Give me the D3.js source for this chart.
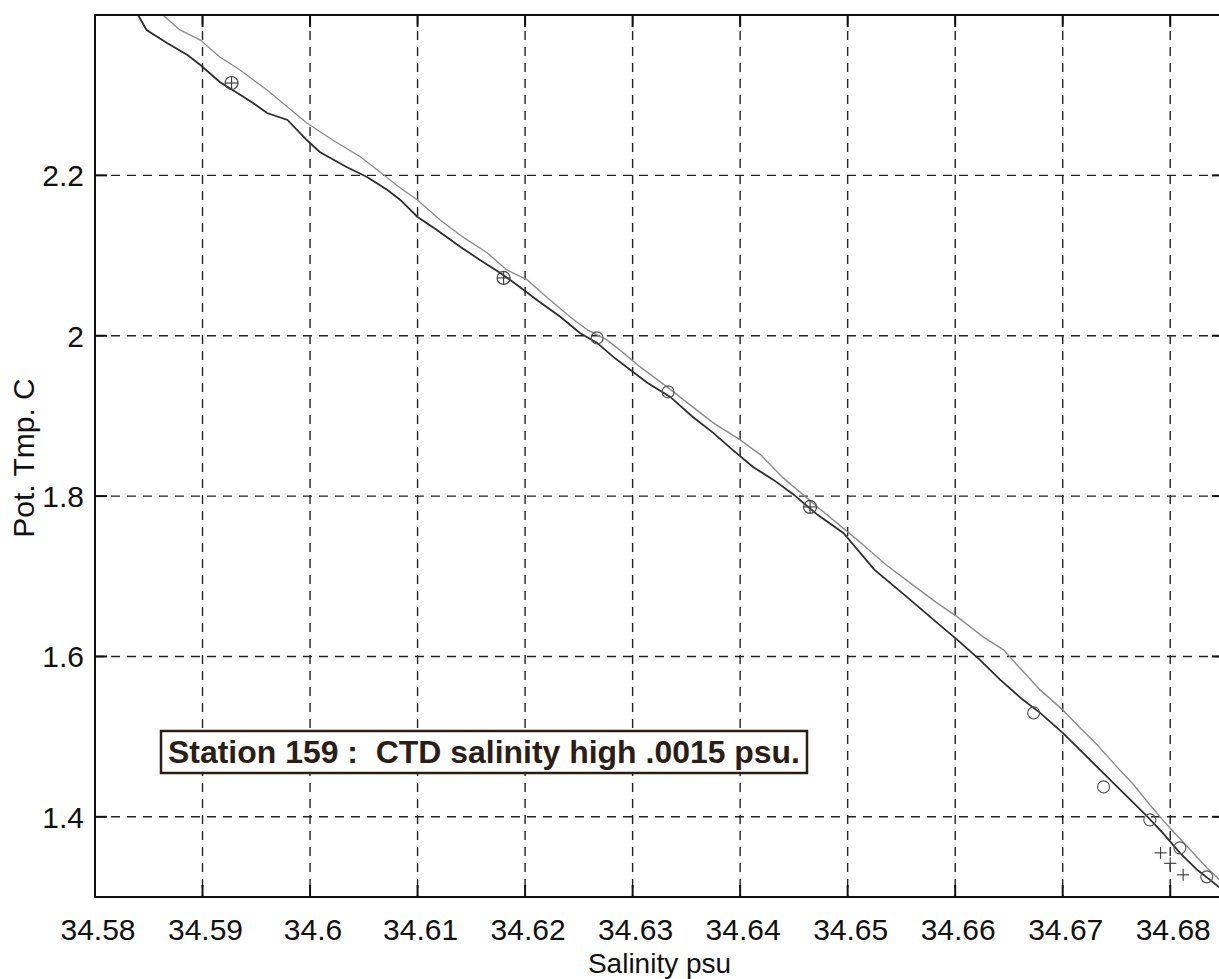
<!DOCTYPE html>
<html>
<head>
<meta charset="utf-8">
<script src="https://cdn.jsdelivr.net/npm/d3@7"></script>
<style>
    body { margin: 0; background: #fff; }
    #chart { width: 1219px; height: 979px; overflow: hidden; }
    text { font-family: "Liberation Sans", Arial, Helvetica, sans-serif; }
</style>
</head>
<body>
<div id="chart"></div>
<script>
// salinity ticks (psu) and temperature ticks (C)
const xTicks = [34.58, 34.59, 34.6, 34.61, 34.62, 34.63, 34.64, 34.65, 34.66, 34.67, 34.68];
const xTickLabels = ['34.58', '34.59', '34.6', '34.61', '34.62', '34.63', '34.64', '34.65', '34.66', '34.67', '34.68'];
const yTicks = [1.4, 1.6, 1.8, 2.0, 2.2];
const yTickLabels = ['1.4', '1.6', '1.8', '2', '2.2'];

// dark trace (CTD)
const ctdSal = [34.5840, 34.5848, 34.5867, 34.5886, 34.5898, 34.5916, 34.5928, 34.5947, 34.5960, 34.5979,
    34.5997, 34.6009, 34.6034, 34.6053, 34.6072, 34.6084, 34.6100, 34.6118, 34.6140, 34.6158,
    34.6177, 34.6195, 34.6211, 34.6233, 34.6251, 34.6267, 34.6282, 34.6298, 34.6314, 34.6335,
    34.6356, 34.6375, 34.6393, 34.6412, 34.6431, 34.6449, 34.6472, 34.6496, 34.6525, 34.6555,
    34.6580, 34.6602, 34.6623, 34.6642, 34.6663, 34.6679, 34.6700, 34.6716, 34.6732, 34.6747,
    34.6763, 34.6779, 34.6793, 34.6809, 34.6825, 34.6837, 34.6846];
const ctdTmp = [2.4000, 2.3813, 2.3651, 2.3501, 2.3377, 2.3165, 2.3065, 2.2903, 2.2778, 2.2691,
    2.2441, 2.2292, 2.2105, 2.1980, 2.1818, 2.1693, 2.1481, 2.1319, 2.1107, 2.0945,
    2.0783, 2.0608, 2.0446, 2.0234, 2.0035, 1.9910, 1.9736, 1.9573, 1.9411, 1.9237,
    1.8987, 1.8788, 1.8576, 1.8364, 1.8202, 1.8027, 1.7766, 1.7541, 1.7080, 1.6743,
    1.6456, 1.6207, 1.5957, 1.5708, 1.5459, 1.5297, 1.5047, 1.4835, 1.4623, 1.4424,
    1.4212, 1.4000, 1.3800, 1.3551, 1.3339, 1.3214, 1.3115];

// light trace (bottle / reference)
const refSal = [34.5863, 34.5879, 34.5898, 34.5916, 34.5935, 34.5960, 34.5979, 34.5997, 34.6021, 34.6047,
    34.6065, 34.6084, 34.6100, 34.6121, 34.6142, 34.6165, 34.6183, 34.6202, 34.6220, 34.6242,
    34.6258, 34.6276, 34.6288, 34.6307, 34.6332, 34.6351, 34.6375, 34.6400, 34.6419, 34.6440,
    34.6472, 34.6512, 34.6535, 34.6558, 34.6583, 34.6602, 34.6626, 34.6645, 34.6660, 34.6679,
    34.6700, 34.6716, 34.6732, 34.6747, 34.6766, 34.6781, 34.6797, 34.6816, 34.6834, 34.6846];
const refTmp = [2.4000, 2.3813, 2.3688, 2.3476, 2.3314, 2.3065, 2.2853, 2.2653, 2.2441, 2.2229,
    2.2042, 2.1843, 2.1693, 2.1444, 2.1232, 2.1032, 2.0820, 2.0696, 2.0484, 2.0234,
    2.0072, 1.9948, 1.9823, 1.9611, 1.9362, 1.9162, 1.8913, 1.8701, 1.8514, 1.8227,
    1.7865, 1.7420, 1.7150, 1.6918, 1.6668, 1.6494, 1.6244, 1.6082, 1.5858, 1.5583,
    1.5334, 1.5110, 1.4898, 1.4673, 1.4399, 1.4150, 1.3900, 1.3626, 1.3364, 1.3214];

// markers
const crossCircleSal = [34.5927, 34.6180, 34.6465];
const crossCircleTmp = [2.3152, 2.0721, 1.7865];
const circleSal = [34.6267, 34.6333, 34.6673, 34.6738, 34.6781, 34.6809, 34.6834];
const circleTmp = [1.9973, 1.9299, 1.5297, 1.4374, 1.3962, 1.3613, 1.3252];
const plusSal = [34.6791, 34.6812, 34.6800];
const plusTmp = [1.3551, 1.3277, 1.3420];

const annotation = 'Station 159 :  CTD salinity high .0015 psu.';

function createChart() {
    const width = 1219;
    const height = 979;

    const margins = { top: 15, left: 95 };
    const plotRight = 1224;
    const plotBottom = 897;

    const svg = d3.select('#chart')
        .append('svg')
        .attr('width', width)
        .attr('height', height);

    svg.append('rect')
        .attr('width', width)
        .attr('height', height)
        .attr('fill', '#fff');

    const x = d3.scaleLinear()
        .domain([34.58, 34.685])
        .range([margins.left, plotRight]);

    const y = d3.scaleLinear()
        .domain([1.3, 2.4])
        .range([plotBottom, margins.top]);

    // dashed grid
    const grid = svg.append('g')
        .attr('stroke', '#222')
        .attr('stroke-width', 1.4)
        .attr('stroke-dasharray', '9,7');
    grid.selectAll('line.vgrid')
        .data(xTicks.slice(1))
        .join('line')
        .attr('class', 'vgrid')
        .attr('x1', d => x(d))
        .attr('x2', d => x(d))
        .attr('y1', margins.top)
        .attr('y2', plotBottom);
    grid.selectAll('line.hgrid')
        .data(yTicks)
        .join('line')
        .attr('class', 'hgrid')
        .attr('x1', margins.left)
        .attr('x2', plotRight)
        .attr('y1', d => y(d))
        .attr('y2', d => y(d));

    // traces
    const line = d3.line()
        .x(d => x(d[0]))
        .y(d => y(d[1]));

    const refPts = refSal.map((s, i) => [s, refTmp[i]]);
    const ctdPts = ctdSal.map((s, i) => [s, ctdTmp[i]]);

    const clip = svg.append('clipPath').attr('id', 'plot-clip');
    clip.append('rect')
        .attr('x', margins.left)
        .attr('y', margins.top)
        .attr('width', plotRight - margins.left)
        .attr('height', plotBottom - margins.top);

    const traces = svg.append('g').attr('clip-path', 'url(#plot-clip)');

    traces.append('path')
        .datum(refPts)
        .attr('fill', 'none')
        .attr('stroke', '#8c8c8c')
        .attr('stroke-width', 1.4)
        .attr('d', line);

    traces.append('path')
        .datum(ctdPts)
        .attr('fill', 'none')
        .attr('stroke', '#2e2e2e')
        .attr('stroke-width', 1.8)
        .attr('d', line);

    // circle-plus markers
    const cc = traces.selectAll('g.cc')
        .data(crossCircleSal.map((s, i) => [s, crossCircleTmp[i]]))
        .join('g')
        .attr('class', 'cc')
        .attr('transform', d => `translate(${x(d[0])},${y(d[1])})`)
        .attr('stroke', '#444')
        .attr('stroke-width', 1.2)
        .attr('fill', 'none');
    cc.append('circle').attr('r', 6.5);
    cc.append('line').attr('x1', -6.5).attr('x2', 6.5);
    cc.append('line').attr('y1', -6.5).attr('y2', 6.5);

    traces.selectAll('circle.o')
        .data(circleSal.map((s, i) => [s, circleTmp[i]]))
        .join('circle')
        .attr('class', 'o')
        .attr('cx', d => x(d[0]))
        .attr('cy', d => y(d[1]))
        .attr('r', 6)
        .attr('fill', 'none')
        .attr('stroke', '#555')
        .attr('stroke-width', 1.2);

    const plus = traces.selectAll('g.plus')
        .data(plusSal.map((s, i) => [s, plusTmp[i]]))
        .join('g')
        .attr('class', 'plus')
        .attr('transform', d => `translate(${x(d[0])},${y(d[1])})`)
        .attr('stroke', '#444')
        .attr('stroke-width', 1.2);
    plus.append('line').attr('x1', -6).attr('x2', 6);
    plus.append('line').attr('y1', -6).attr('y2', 6);

    // axes box with inward ticks on all sides
    const axisG = svg.append('g')
        .attr('stroke', '#111')
        .attr('stroke-width', 2)
        .attr('fill', 'none');
    axisG.append('rect')
        .attr('x', margins.left)
        .attr('y', margins.top)
        .attr('width', plotRight - margins.left)
        .attr('height', plotBottom - margins.top);

    const tickLen = 12;
    xTicks.forEach(t => {
        axisG.append('line')
            .attr('x1', x(t)).attr('x2', x(t))
            .attr('y1', plotBottom).attr('y2', plotBottom - tickLen);
        axisG.append('line')
            .attr('x1', x(t)).attr('x2', x(t))
            .attr('y1', margins.top).attr('y2', margins.top + tickLen);
    });
    yTicks.forEach(t => {
        axisG.append('line')
            .attr('x1', margins.left).attr('x2', margins.left + tickLen)
            .attr('y1', y(t)).attr('y2', y(t));
        axisG.append('line')
            .attr('x1', plotRight).attr('x2', plotRight - tickLen)
            .attr('y1', y(t)).attr('y2', y(t));
    });

    // tick labels
    svg.append('g')
        .selectAll('text')
        .data(xTicks)
        .join('text')
        .attr('x', d => x(d) + 3)
        .attr('y', 940)
        .attr('text-anchor', 'middle')
        .attr('font-size', 30)
        .attr('fill', '#111')
        .text((d, i) => xTickLabels[i]);

    svg.append('g')
        .selectAll('text')
        .data(yTicks)
        .join('text')
        .attr('x', margins.left - 11)
        .attr('y', d => y(d))
        .attr('dy', '0.36em')
        .attr('text-anchor', 'end')
        .attr('font-size', 30)
        .attr('fill', '#111')
        .text((d, i) => yTickLabels[i]);

    // axis titles
    svg.append('text')
        .attr('x', (margins.left + plotRight) / 2)
        .attr('y', 973)
        .attr('text-anchor', 'middle')
        .attr('font-size', 28)
        .attr('fill', '#111')
        .text('Salinity psu');

    svg.append('text')
        .attr('transform', `translate(34, ${(margins.top + plotBottom) / 2 + 2}) rotate(-90)`)
        .attr('text-anchor', 'middle')
        .attr('font-size', 30)
        .attr('fill', '#111')
        .text('Pot. Tmp. C');

    // annotation box
    const note = svg.append('g');
    note.append('rect')
        .attr('x', 161)
        .attr('y', 731)
        .attr('width', 646)
        .attr('height', 42)
        .attr('fill', '#fff')
        .attr('stroke', '#2a1e16')
        .attr('stroke-width', 2.5);
    note.append('text')
        .attr('x', 168)
        .attr('y', 763)
        .attr('font-size', 31)
        .attr('font-weight', 'bold')
        .attr('fill', '#2a1e16')
        .attr('xml:space', 'preserve')
        .style('white-space', 'pre')
        .attr('textLength', 632)
        .attr('lengthAdjust', 'spacingAndGlyphs')
        .text(annotation);

    return svg.node();
}

createChart();
</script>
</body>
</html>
